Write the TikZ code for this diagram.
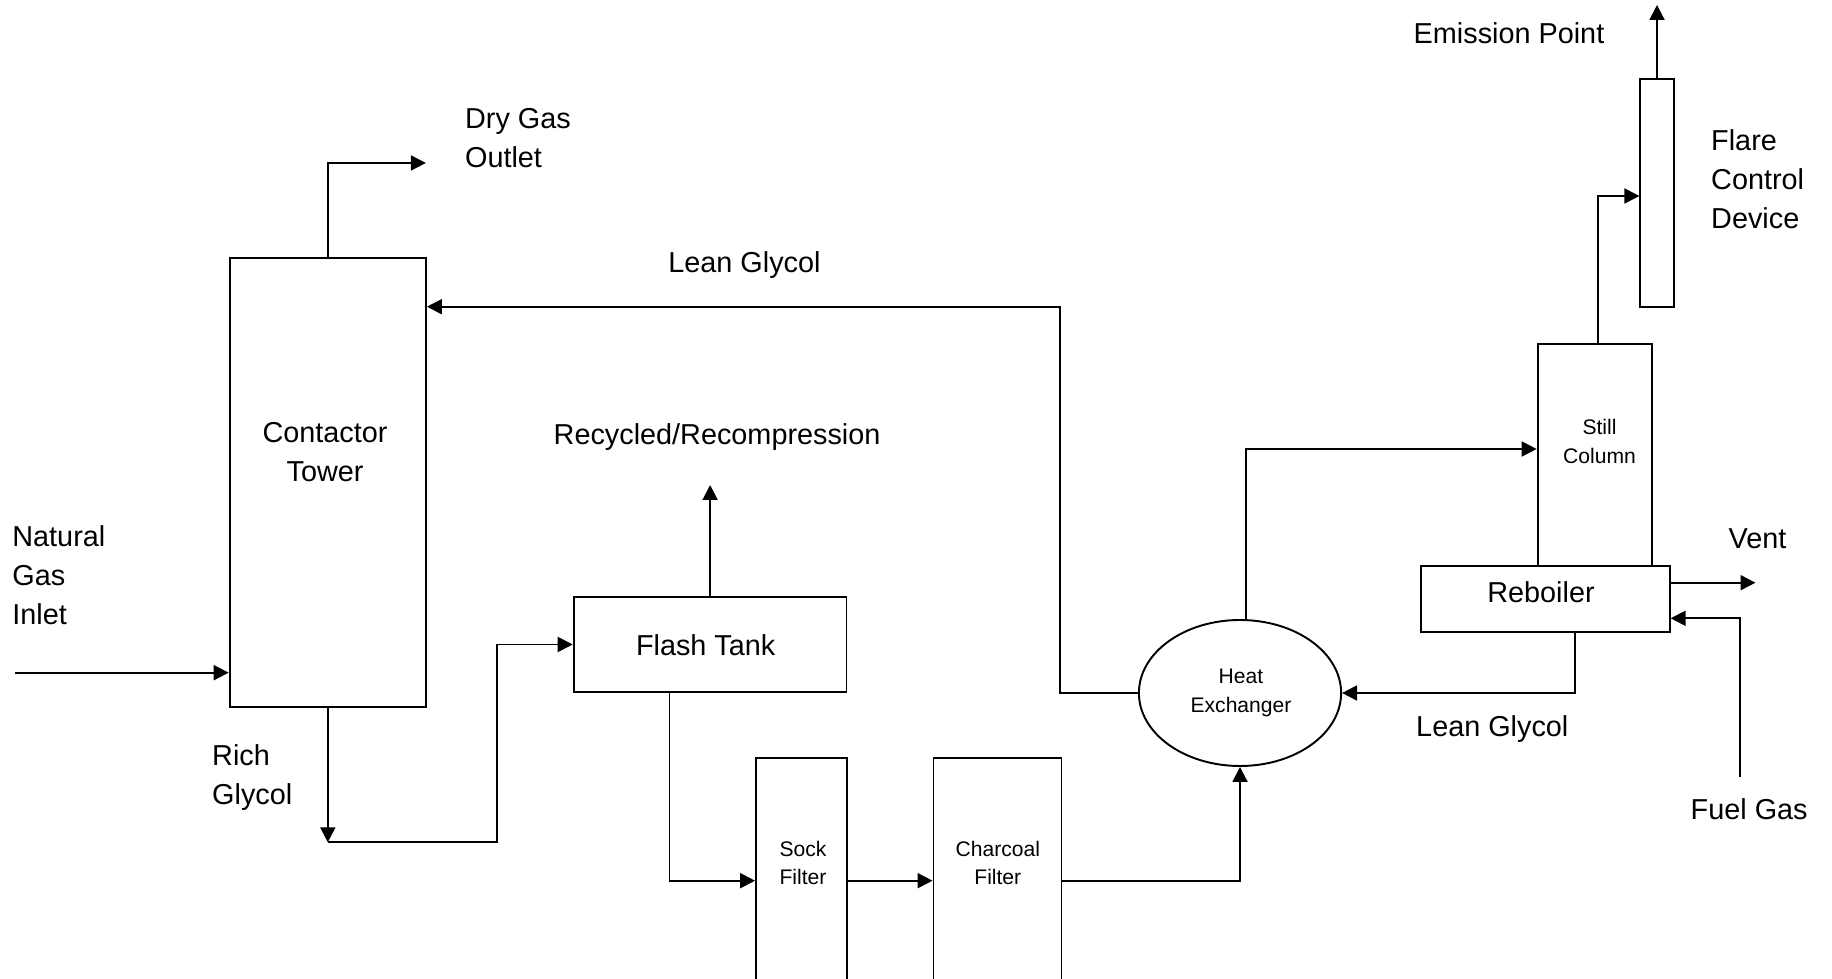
\documentclass[tikz,border=0pt]{standalone}
\usepackage{fontspec}
\setmainfont{Liberation Sans}
\usetikzlibrary{arrows.meta,shapes.geometric}

\tikzset{
  unit/.style={draw, line width=0.55pt, inner sep=0pt},
  flow/.style={line width=0.55pt, -{Triangle[length=1.5mm,width=1.5mm]}},
  lbl/.style={inner sep=0pt, font=\fontsize{8.2}{11.1}\selectfont, align=left},
  small/.style={inner sep=0pt, font=\fontsize{6}{8.1}\selectfont, align=center},
}

\begin{document}
\begin{tikzpicture}[x=0.1mm,y=-0.1mm]
	\useasboundingbox (0,0) rectangle (1832,979);
	\clip (0,0) rectangle (1832,979);
	% equipment
	\node[unit, minimum width=19.63mm, minimum height=44.84mm] (tower) at (327.8,482.5) {};
	\node[unit, minimum width=3.33mm, minimum height=22.8mm] (flare) at (1657,192.7) {};
	\node[unit, minimum width=11.44mm, minimum height=22.2mm] (still) at (1594.8,455) {};
	\node[unit, minimum width=24.83mm, minimum height=6.63mm] (reb) at (1545.5,599.2) {};
	\node[unit, minimum width=27.28mm, minimum height=9.56mm] (flash) at (710.1,644.5) {};
	\node[unit, minimum width=9.05mm, minimum height=24.17mm] (sock) at (801.3,879.2) {};
	\node[unit, minimum width=12.8mm, minimum height=24.17mm] (char) at (997.5,879.2) {};
	\node[unit, ellipse, minimum width=20.22mm, minimum height=14.6mm] (hx) at (1240,693) {};
	% labels
	\node[lbl, anchor=base west] (emistxt) at (1413,43.3) {Emission Point};
	\node[lbl, anchor=base west] (drytxt) at (464.4,167.7) {Dry Gas\\Outlet};
	\node[lbl, anchor=base west] (flaretxt) at (1710.5,228.3) {Flare\\Control\\Device};
	\node[lbl, anchor=base west] (leanup) at (667.7,272.7) {Lean Glycol};
	\node[lbl, align=center, anchor=base] (towertxt) at (325,481.7) {Contactor\\Tower};
	\node[lbl, anchor=base west] (recytxt) at (553,444.3) {Recycled/Recompression};
	\node[small, anchor=base] (stilltxt) at (1599.5,463.3) {Still\\Column};
	\node[lbl, anchor=base west] (ngtxt) at (11.7,625) {Natural\\Gas\\Inlet};
	\node[lbl, anchor=base west] (richtxt) at (211.5,804.3) {Rich\\Glycol};
	\node[lbl, anchor=base] (flashtxt) at (705.7,655.7) {Flash Tank};
	\node[small, anchor=base] (socktxt) at (803,885) {Sock\\Filter};
	\node[small, anchor=base] (chartxt) at (997.8,885) {Charcoal\\Filter};
	\node[small, anchor=base] (hxtxt) at (1241,712.3) {Heat\\Exchanger};
	\node[lbl, anchor=base] (rebtxt) at (1541,602.7) {Reboiler};
	\node[lbl, anchor=base west] (venttxt) at (1728,548.3) {Vent};
	\node[lbl, anchor=base west] (leanlow) at (1415.5,736.7) {Lean Glycol};
	\node[lbl, anchor=base west] (fueltxt) at (1690,819.3) {Fuel Gas};
	% stream ends and bends
	\coordinate (ngin) at (15.2,672.7);
	\coordinate (dryout) at (425.9,163);
	\coordinate (richlow) at (327.8,842.3);
	\coordinate (richup) at (496.6,644.5);
	\coordinate (recyc) at (710.1,485);
	\coordinate (sockin) at (669.5,880.7);
	\coordinate (lgturn) at (1060.3,306.7);
	\coordinate (stillin) at (1246,449);
	\coordinate (flarein) at (1597.7,196);
	\coordinate (rebout) at (1575,692.3);
	\coordinate (vent) at (1755.5,582.7);
	\coordinate (fuel) at (1739.7,776.7);
	\coordinate (fuelin) at (1739.7,618.3);
	\coordinate (emis) at (1657,5);
	% streams
	\draw[flow] (ngin) -- (ngin -| tower.west);
	\draw[flow] (tower.north) |- (dryout);
	\draw[flow] (tower.south) -- (richlow);
	\draw[flow] (richlow) -| (richup) -- (flash.west);
	\draw[flow] (flash.north) -- (recyc);
	\draw[flow] (flash.south -| sockin) |- (sockin -| sock.west);
	\draw[flow] (sockin -| sock.east) -- (sockin -| char.west);
	\draw[flow] (sockin -| char.east) -| (hx.south);
	\draw[flow] (hx.west) -| (lgturn) -- (lgturn -| tower.east);
	\draw[flow] (hx.north -| stillin) |- (stillin -| still.west);
	\draw[flow] (reb.south -| rebout) |- (hx.east);
	\draw[flow] (still.north -| flarein) |- (flarein -| flare.west);
	\draw[flow] (flare.north) -- (emis);
	\draw[flow] (vent -| reb.east) -- (vent);
	\draw[flow] (fuel) -- (fuelin) -- (fuelin -| reb.east);
\end{tikzpicture}
\end{document}
